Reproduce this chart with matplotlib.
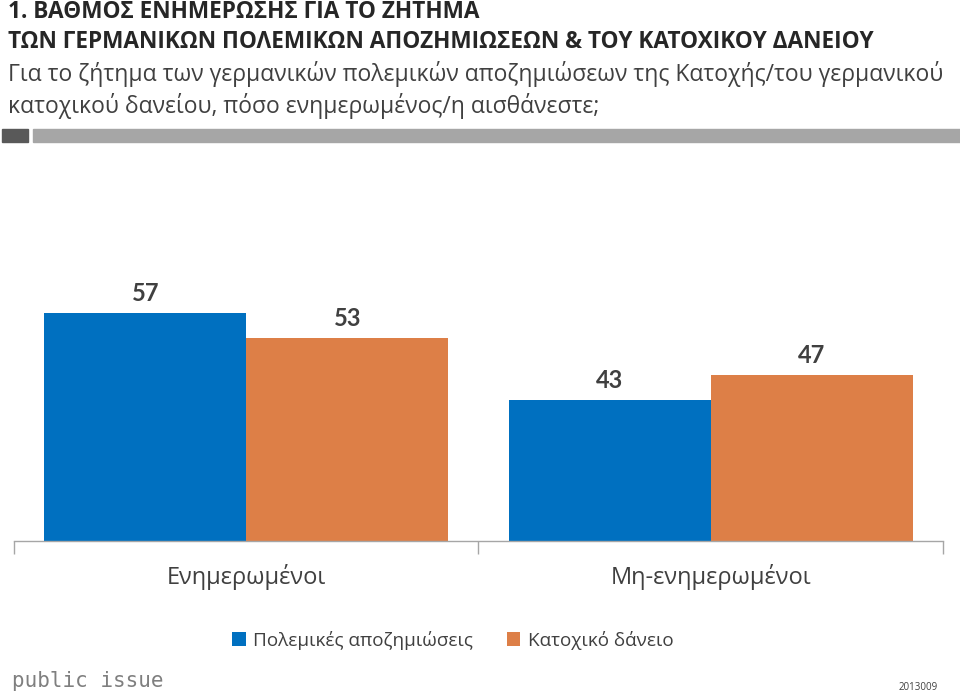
import matplotlib
matplotlib.use("Agg")
import matplotlib.pyplot as plt
import numpy as np
from matplotlib.patches import Rectangle

categories = ["Ενημερωμένοι", "Μη-ενημερωμένοι"]
series_names = ["Πολεμικές αποζημιώσεις", "Κατοχικό δάνειο"]
war_reparations = [57, 43]
occupation_loan = [53, 47]
colors = ["#0070C0", "#DD7F47"]

title1 = "1. ΒΑΘΜΟΣ ΕΝΗΜΕΡΩΣΗΣ ΓΙΑ ΤΟ ΖΗΤΗΜΑ"
title2 = "ΤΩΝ ΓΕΡΜΑΝΙΚΩΝ ΠΟΛΕΜΙΚΩΝ ΑΠΟΖΗΜΙΩΣΕΩΝ & ΤΟΥ ΚΑΤΟΧΙΚΟΥ ΔΑΝΕΙΟΥ"
sub1 = "Για το ζήτημα των γερμανικών πολεμικών αποζημιώσεων της Κατοχής/του γερμανικού"
sub2 = "κατοχικού δανείου, πόσο ενημερωμένος/η αισθάνεστε;"

W, H = 960, 697
fig = plt.figure(figsize=(W / 100, H / 100), dpi=100)
fig.patch.set_facecolor("white")

def fx(px):
    return px / W

def fy(py):
    return 1 - py / H

# axes: x 14..943, bottom at 541, ~6.2 px/unit
ax_top = 541 - 60 * 6.2
ax = fig.add_axes([fx(14), fy(541), fx(943 - 14), (541 - ax_top) / H])
ax.set_xlim(-0.5, 1.5)
ax.set_ylim(20.3, 80.3)

x = np.arange(len(categories))
bw = 0.435
b1 = ax.bar(x - bw / 2, war_reparations, bw, bottom=0, color=colors[0], label=series_names[0])
b2 = ax.bar(x + bw / 2, occupation_loan, bw, bottom=0, color=colors[1], label=series_names[1])

for bars, vals in ((b1, war_reparations), (b2, occupation_loan)):
    for r, v in zip(bars, vals):
        ax.text(r.get_x() + r.get_width() / 2, v + 1.4, f"{v}", ha="center", va="bottom",
                fontsize=17, fontweight="bold", color="#404040", family=["Lato", "DejaVu Sans"])

for s in ["top", "right", "left"]:
    ax.spines[s].set_visible(False)
ax.spines["bottom"].set_color("#a6a6a6")
ax.spines["bottom"].set_linewidth(1.0)
ax.set_yticks([])
ax.set_xticks([-0.5, 0.5, 1.5])
ax.set_xticklabels([])
ax.tick_params(axis="x", length=9, color="#a6a6a6", width=1.0)
for i, c in enumerate(categories):
    ax.text(i, -0.098, c, transform=ax.get_xaxis_transform(), ha="center", va="center",
            fontsize=17, color="#404040", family=["Open Sans", "DejaVu Sans"])

# titles
fig.text(fx(8), fy(12), title1, ha="left", va="center", fontsize=16.3, fontweight="bold",
         color="#262626", family=["Open Sans", "DejaVu Sans"])
fig.text(fx(8), fy(42), title2, ha="left", va="center", fontsize=16.3, fontweight="bold",
         color="#262626", family=["Open Sans", "DejaVu Sans"])
fig.text(fx(8), fy(74), sub1, ha="left", va="center", fontsize=16.5,
         color="#404040", family=["Open Sans", "DejaVu Sans"])
fig.text(fx(8), fy(106), sub2, ha="left", va="center", fontsize=16.5,
         color="#404040", family=["Open Sans", "DejaVu Sans"])

# decorative bars
fig.patches.append(Rectangle((fx(2), fy(142)), fx(26), (142 - 129) / H, color="#595959",
                             transform=fig.transFigure, figure=fig))
fig.patches.append(Rectangle((fx(33), fy(142)), fx(927), (142 - 129) / H, color="#a6a6a6",
                             transform=fig.transFigure, figure=fig))

# legend
leg = fig.legend(handles=[b1, b2], labels=series_names, loc="center", bbox_to_anchor=(fx(453), fy(640)),
                 ncol=2, frameon=False, handlelength=0.7, handleheight=0.7,
                 handletextpad=0.4, columnspacing=1.8,
                 prop={"family": ["Open Sans", "DejaVu Sans"], "size": 13.6})
for t in leg.get_texts():
    t.set_color("#404040")

fig.text(fx(12), fy(681), "public issue", ha="left", va="center", fontsize=15,
         color="#7f7f7f", family=["DejaVu Sans Mono", "DejaVu Sans"])
fig.text(fx(938), fy(688), "2013009", ha="right", va="center", fontsize=7,
         color="#404040", family=["Open Sans", "DejaVu Sans"])

fig.savefig("out.png", dpi=100)
